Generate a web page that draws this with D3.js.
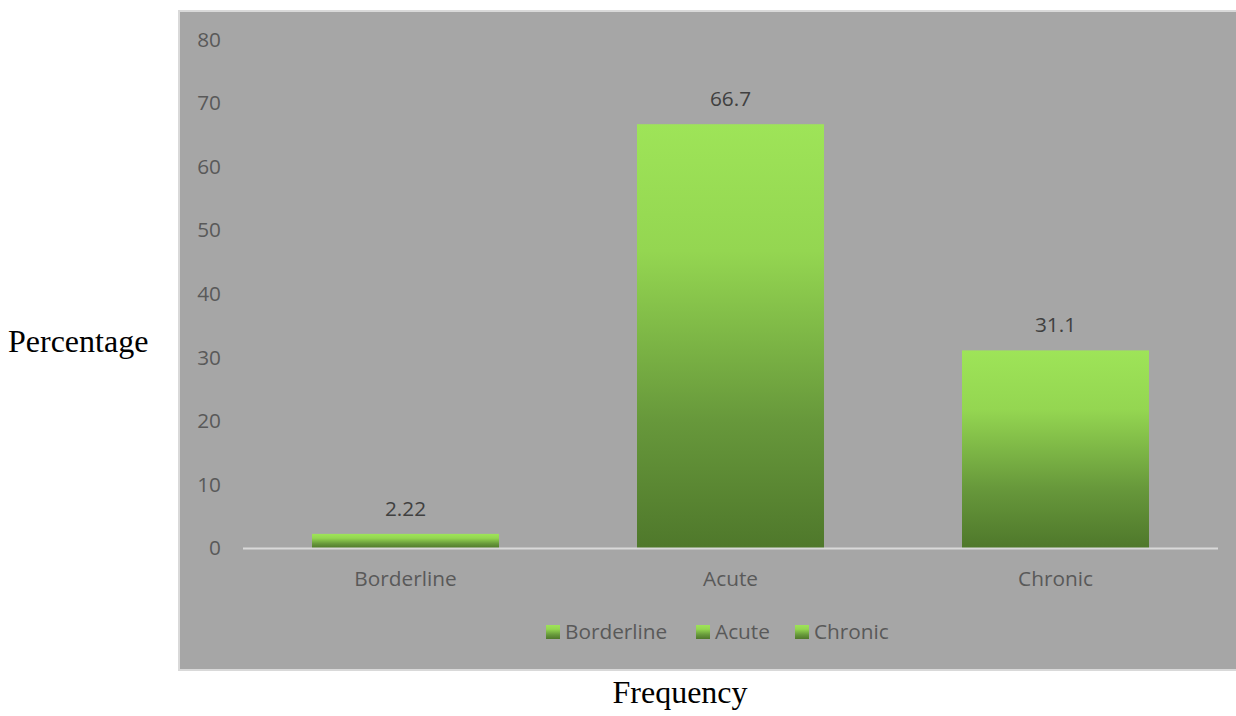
<!DOCTYPE html>
<html><head><meta charset="utf-8">
<script src="https://cdn.jsdelivr.net/npm/d3@7"></script>
<style>html,body{margin:0;padding:0;background:#fff;}</style>
</head><body>
<svg id="c" width="1236" height="716"></svg>
<script>
const categories = ["Borderline", "Acute", "Chronic"];
const values = [2.22, 66.7, 31.1];
const valueLabels = ["2.22", "66.7", "31.1"];
const yTicks = [0, 10, 20, 30, 40, 50, 60, 70, 80];
const yTitle = "Percentage";
const xTitle = "Frequency";

const svg = d3.select("#c");
const defs = svg.append("defs");
const g = defs.append("linearGradient").attr("id","grad").attr("x1",0).attr("y1",0).attr("x2",0).attr("y2",1);
[[0,"#9ee458"],[0.3,"#94d651"],[0.7,"#67983b"],[1,"#4f782b"]].forEach(s=>g.append("stop").attr("offset",s[0]).attr("stop-color",s[1]));

// chart area box
svg.append("rect").attr("x",179).attr("y",11).attr("width",1100).attr("height",659)
  .attr("fill","#a6a6a6").attr("stroke","#d9d9d9").attr("stroke-width",2);

const x = d3.scaleBand().domain(categories).range([243,1218]).paddingInner(0.4246).paddingOuter(0.2123);
const y = d3.scaleLinear().domain([0,80]).range([548,39.7]);

const font = "'Open Sans', sans-serif";
const fs = 20.8;

// y axis labels
const yAxis = d3.axisLeft(y).tickValues(yTicks).tickSize(0).tickPadding(0).tickFormat(d3.format("d"));
const ya = svg.append("g").attr("transform","translate(221,0)").call(yAxis);
ya.select(".domain").remove();
ya.selectAll("text").attr("font-family",font).attr("font-size",fs).attr("fill","#595959");

// bars
svg.selectAll(".bar").data(values).enter().append("rect")
  .attr("x",(d,i)=>x(categories[i])).attr("width",x.bandwidth())
  .attr("y",d=>y(d)).attr("height",d=>y(0)-y(d)).attr("fill","url(#grad)");

// baseline
svg.append("line").attr("x1",243).attr("x2",1218).attr("y1",y(0)+0.5).attr("y2",y(0)+0.5)
  .attr("stroke","#d9d9d9").attr("stroke-width",2);

// x axis labels
const xAxis = d3.axisBottom(x).tickSize(0).tickPadding(0);
const xa = svg.append("g").attr("transform","translate(0,"+(y(0)+38)+")").call(xAxis);
xa.select(".domain").remove();
xa.selectAll("text").attr("dy",null).attr("font-family",font).attr("font-size",fs).attr("fill","#595959");

// data labels
svg.selectAll(".lbl").data(values).enter().append("text")
  .attr("x",(d,i)=>x(categories[i])+x.bandwidth()/2).attr("y",d=>y(d)-18)
  .attr("text-anchor","middle").attr("font-family",font).attr("font-size",fs).attr("fill","#404040")
  .text((d,i)=>valueLabels[i]);

// legend
const legX = [546, 696, 795];
const leg = svg.selectAll(".leg").data(categories).enter().append("g")
  .attr("transform",(d,i)=>"translate("+legX[i]+",625)");
leg.append("rect").attr("width",14).attr("height",14).attr("fill","url(#grad)");
leg.append("text").attr("x",19).attr("y",14).attr("font-family",font).attr("font-size",fs).attr("fill","#595959").text(d=>d);

// axis titles
svg.append("text").attr("x",8).attr("y",352).attr("font-family","'Liberation Serif', 'Times New Roman', serif")
  .attr("font-size",32).attr("fill","#000").text(yTitle);
svg.append("text").attr("x",680).attr("y",703).attr("text-anchor","middle").attr("font-family","'Liberation Serif', 'Times New Roman', serif")
  .attr("font-size",32).attr("fill","#000").text(xTitle);
</script>
</body></html>
